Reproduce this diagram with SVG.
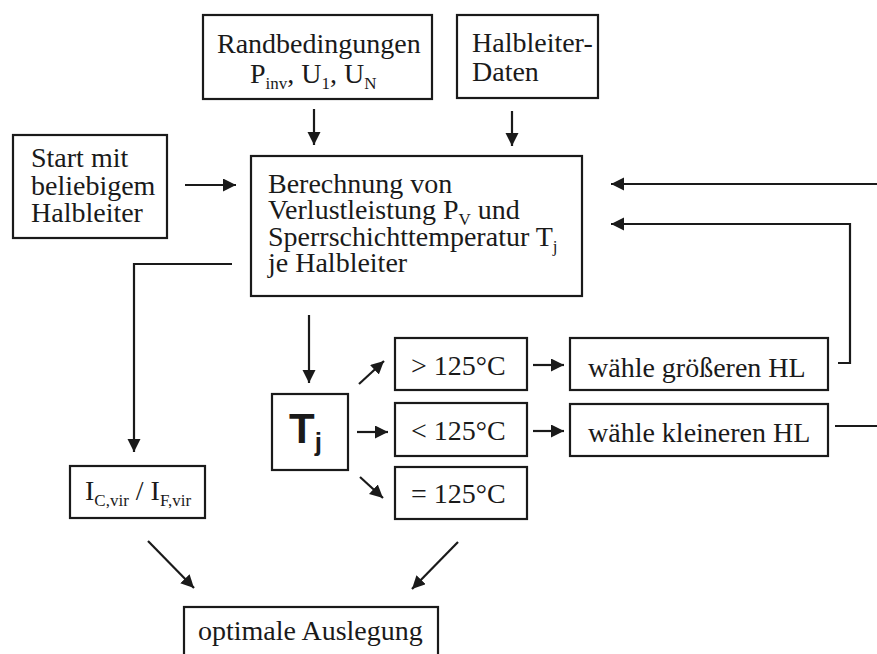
<svg xmlns="http://www.w3.org/2000/svg" width="877" height="654" viewBox="0 0 877 654">
<defs>
<marker id="ah" markerUnits="userSpaceOnUse" markerWidth="14" markerHeight="14" refX="13" refY="6.5" orient="auto">
<path d="M0,0 L13,6.5 L0,13 z" fill="#1a1a1a"/>
</marker>
<style>
.box{fill:#fff;stroke:#1a1a1a;stroke-width:2.2}
.t{font-family:"Liberation Serif","Times New Roman",serif;font-size:28px;fill:#1a1a1a}
.s{font-size:17px}
.c{fill:none;stroke:#1a1a1a;stroke-width:2.2}
.a{marker-end:url(#ah)}
</style>
</defs>
<rect width="877" height="654" fill="#fff"/>

<g id="connectors">
<path class="c a" d="M185,185 H236"/>
<path class="c a" d="M314,109 V145"/>
<path class="c a" d="M512,111 V146"/>
<path class="c a" d="M232,264 H134 V452"/>
<path class="c a" d="M309,315 V383"/>
<path class="c a" d="M359,384 L384,361"/>
<path class="c a" d="M357,432 H388"/>
<path class="c a" d="M360,477 L383,498"/>
<path class="c a" d="M533,365 H564"/>
<path class="c a" d="M533,431 H564"/>
<path class="c a" d="M838,363 H850 V224 H611"/>
<path class="c" d="M835,426 H877"/>
<path class="c a" d="M877,184 H611"/>
<path class="c a" d="M148,541 L194,588"/>
<path class="c a" d="M458,542 L412,589"/>
</g>

<g id="randbedingungen">
<rect class="box" x="203" y="15" width="229" height="84"/>
<text class="t" x="217" y="53">Randbedingungen</text>
<text class="t" x="250" y="83">P<tspan class="s" dy="6">inv</tspan><tspan dy="-6">, U</tspan><tspan class="s" dy="6">1</tspan><tspan dy="-6">, U</tspan><tspan class="s" dy="6">N</tspan></text>
</g>

<g id="halbleiter-daten">
<rect class="box" x="457" y="15" width="141" height="83"/>
<text class="t" x="472" y="52">Halbleiter-</text>
<text class="t" x="472" y="81">Daten</text>
</g>

<g id="start">
<rect class="box" x="13" y="135" width="154" height="103"/>
<text class="t" x="31" y="167">Start mit</text>
<text class="t" x="31" y="195">beliebigem</text>
<text class="t" x="31" y="222">Halbleiter</text>
</g>

<g id="berechnung">
<rect class="box" x="251" y="156" width="331" height="140"/>
<text class="t" x="268" y="193">Berechnung von</text>
<text class="t" x="268" y="219">Verlustleistung P<tspan class="s" dy="6">V</tspan><tspan dy="-6"> und</tspan></text>
<text class="t" x="268" y="246">Sperrschichttemperatur T<tspan class="s" dy="6">j</tspan></text>
<text class="t" x="268" y="272">je Halbleiter</text>
</g>

<g id="tj">
<rect class="box" x="272" y="394" width="76" height="76"/>
<text x="289" y="443" style="font-family:'Liberation Sans',Arial,sans-serif;font-weight:bold;font-size:42px;fill:#1a1a1a">T<tspan dy="8" style="font-size:26px">j</tspan></text>
</g>

<g id="gt125">
<rect class="box" x="395" y="338" width="132" height="52"/>
<text class="t" x="411" y="375">&gt; 125°C</text>
</g>

<g id="lt125">
<rect class="box" x="395" y="403" width="132" height="53"/>
<text class="t" x="411" y="440">&lt; 125°C</text>
</g>

<g id="eq125">
<rect class="box" x="395" y="467" width="132" height="52"/>
<text class="t" x="411" y="503">= 125°C</text>
</g>

<g id="groesser">
<rect class="box" x="570" y="338" width="258" height="52"/>
<text class="t" x="588" y="377">wähle größeren HL</text>
</g>

<g id="kleiner">
<rect class="box" x="570" y="404" width="258" height="52"/>
<text class="t" x="588" y="442">wähle kleineren HL</text>
</g>

<g id="icvir">
<rect class="box" x="70" y="466" width="135" height="52"/>
<text class="t" x="85" y="500">I<tspan class="s" dy="6">C,vir</tspan><tspan dy="-6"> / I</tspan><tspan class="s" dy="6">F,vir</tspan></text>
</g>

<g id="optimal">
<rect class="box" x="184" y="607" width="254" height="60"/>
<text class="t" x="198" y="640">optimale Auslegung</text>
</g>
</svg>
